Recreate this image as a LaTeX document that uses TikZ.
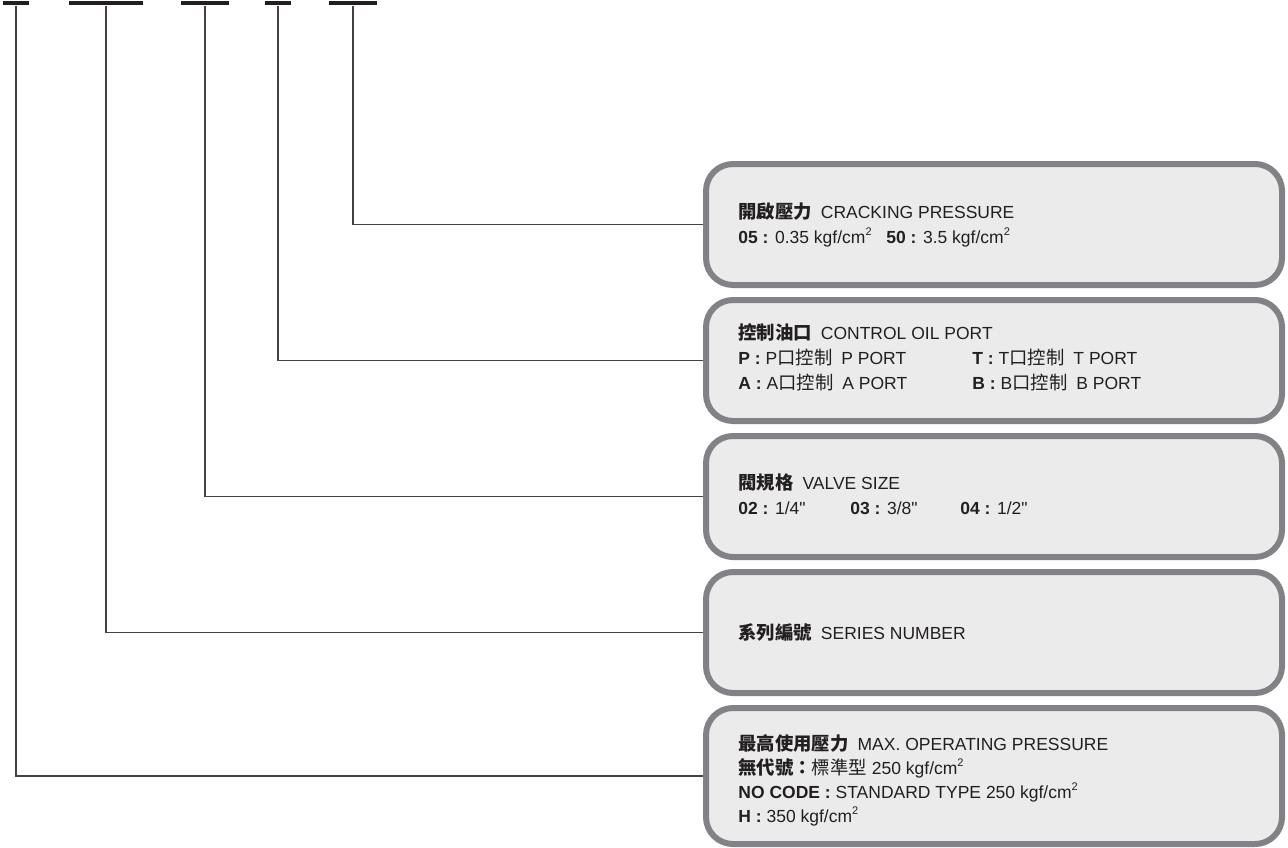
\documentclass[tikz,border=0pt]{standalone}
\usepackage{fontspec}
\newfontfamily\arial{Liberation Sans}
\newfontfamily\cjk[Scale=1.05]{Noto Sans CJK TC}
\newcommand\cmsq{cm\raisebox{0.42em}{\fontsize{5.5}{5.5}\selectfont 2}}

\definecolor{boxgray}{HTML}{808285}
\definecolor{boxfill}{HTML}{EBEBEC}
\definecolor{ink}{HTML}{231F20}

\begin{document}
\begin{tikzpicture}[x=0.5pt,y=-0.5pt,
    codebar/.style={fill=ink,inner sep=0pt,minimum height=2.2pt},
    codebox/.style={draw=boxgray,fill=boxfill,line width=3pt,rounded corners=13.5pt,
      minimum width=288pt,minimum height=60.5pt,inner sep=0pt},
    lead/.style={draw=ink!85,line width=0.7pt},
    txt/.style={anchor=base west,inner sep=0pt,text=ink,font=\arial\fontsize{8.75}{10}\selectfont}]

    \useasboundingbox (0,0) rectangle (1288,847);

    % Code bars along the top
    \node[codebar,minimum width=13pt] (bar1) at (16,3) {};
    \node[codebar,minimum width=37pt] (bar2) at (106,3) {};
    \node[codebar,minimum width=24pt] (bar3) at (205,3) {};
    \node[codebar,minimum width=13pt] (bar4) at (278,3) {};
    \node[codebar,minimum width=24pt] (bar5) at (353,3) {};

    % Explanation boxes
    \node[codebox] (box1) at (994,224.5) {};
    \node[codebox] (box2) at (994,360.5) {};
    \node[codebox] (box3) at (994,496.5) {};
    \node[codebox] (box4) at (994,632.5) {};
    \node[codebox,minimum height=68pt] (box5) at (994,776) {};

    % Leads from bars to boxes
    \draw[lead] (bar5.south) |- (box1.west);
    \draw[lead] (bar4.south) |- (box2.west);
    \draw[lead] (bar3.south) |- (box3.west);
    \draw[lead] (bar2.south) |- (box4.west);
    \draw[lead] (bar1.south) |- (box5.west);

    % Cracking pressure
    \node[txt] (crack) at (738,218) {{\cjk\bfseries 開啟壓力}\hspace{4.5pt}CRACKING PRESSURE};
    \node[txt] (crackA) at (738,243) {\textbf{05 :} 0.35 kgf/\cmsq};
    \node[txt] (crackB) at (886,243) {\textbf{50 :} 3.5 kgf/\cmsq};

    % Control oil port
    \node[txt] (port) at (738,339) {{\cjk\bfseries 控制油口}\hspace{4.5pt}CONTROL OIL PORT};
    \node[txt] (portP) at (738,364) {\textbf{P :} P{\cjk 口控制}\hspace{4.5pt}P PORT};
    \node[txt] (portT) at (972,364) {\textbf{T :} T{\cjk 口控制}\hspace{4.5pt}T PORT};
    \node[txt] (portA) at (738,389) {\textbf{A :} A{\cjk 口控制}\hspace{4.5pt}A PORT};
    \node[txt] (portB) at (972,389) {\textbf{B :} B{\cjk 口控制}\hspace{4.5pt}B PORT};

    % Valve size
    \node[txt] (size) at (738,489) {{\cjk\bfseries 閥規格}\hspace{4.5pt}VALVE SIZE};
    \node[txt] (sizeA) at (738,514) {\textbf{02 :} 1/4"};
    \node[txt] (sizeB) at (850,514) {\textbf{03 :} 3/8"};
    \node[txt] (sizeC) at (960,514) {\textbf{04 :} 1/2"};

    % Series number
    \node[txt] (series) at (738,639) {{\cjk\bfseries 系列編號}\hspace{4.5pt}SERIES NUMBER};

    % Max. operating pressure
    \node[txt] (maxp) at (738,750) {{\cjk\bfseries 最高使用壓力}\hspace{4.5pt}MAX. OPERATING PRESSURE};
    \node[txt] (maxpA) at (738,774) {{\cjk\bfseries 無代號：}{\cjk 標準型} 250 kgf/\cmsq};
    \node[txt] (maxpB) at (738,798) {\textbf{NO CODE :} STANDARD TYPE 250 kgf/\cmsq};
    \node[txt] (maxpC) at (738,822) {\textbf{H :} 350 kgf/\cmsq};

\end{tikzpicture}
\end{document}
